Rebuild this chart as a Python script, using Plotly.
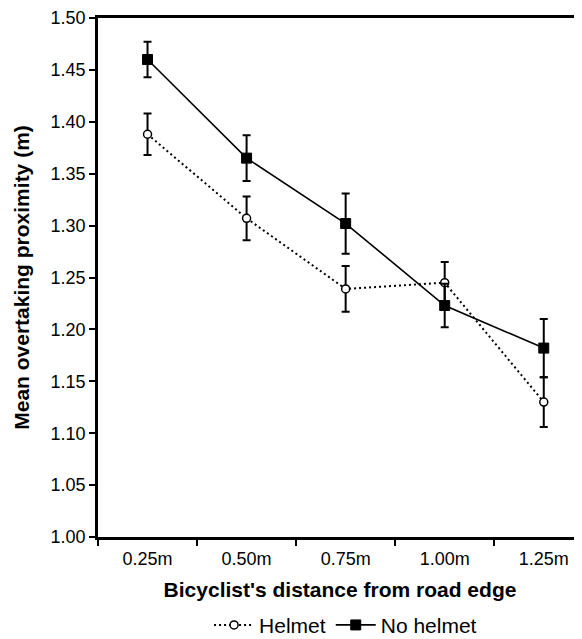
import plotly.graph_objects as go

categories = ["0.25m", "0.50m", "0.75m", "1.00m", "1.25m"]
helmet_mean = [1.388, 1.307, 1.239, 1.245, 1.130]
helmet_err = [0.020, 0.021, 0.022, 0.020, 0.024]
nohelmet_mean = [1.460, 1.365, 1.302, 1.223, 1.182]
nohelmet_err = [0.017, 0.022, 0.029, 0.021, 0.028]
y_ticks = [1.00, 1.05, 1.10, 1.15, 1.20, 1.25, 1.30, 1.35, 1.40, 1.45, 1.50]

FONT = "Liberation Sans, Arial, sans-serif"

fig = go.Figure()
fig.add_trace(go.Scatter(
    x=categories, y=helmet_mean, name="Helmet", mode="lines+markers",
    line=dict(color="black", width=2, dash="2px,3px"),
    marker=dict(symbol="circle", size=8, color="white", line=dict(color="black", width=1.5)),
    error_y=dict(type="data", array=helmet_err, color="black", thickness=2, width=4),
))
fig.add_trace(go.Scatter(
    x=categories, y=nohelmet_mean, name="No helmet", mode="lines+markers",
    line=dict(color="black", width=1.6),
    marker=dict(symbol="square", size=10, color="black", line=dict(color="black", width=1)),
    error_y=dict(type="data", array=nohelmet_err, color="black", thickness=2, width=4),
))

# page body adds an 8px offset; margins compensate for it
fig.update_layout(
    width=582, height=639,
    margin=dict(l=90, r=8, t=10, b=110, autoexpand=False),
    paper_bgcolor="white", plot_bgcolor="white",
    font=dict(family=FONT, color="black", size=18),
    showlegend=True,
    legend=dict(orientation="h", xref="container", yref="container",
                x=0.58, xanchor="center", y=0.034, yanchor="middle",
                font=dict(size=21), itemwidth=40, traceorder="normal"),
    xaxis=dict(
        type="category", range=[-0.5, 4.386], automargin=False,
        showline=True, linecolor="black", linewidth=2.5, mirror=True,
        ticks="outside", tickson="boundaries", ticklen=6, tickwidth=2, tickcolor="black",
        showgrid=False, zeroline=False, ticklabelstandoff=4,
        tickfont=dict(size=18),
        title=dict(text="<b>Bicyclist's distance from road edge</b>", font=dict(size=21), standoff=14),
    ),
    yaxis=dict(
        range=[1.0, 1.5], tickvals=y_ticks, ticktext=[f"{v:.2f}" for v in y_ticks],
        automargin=False,
        showline=True, linecolor="black", linewidth=2.5, mirror=False,
        ticks="outside", ticklen=6, tickwidth=2, tickcolor="black",
        showgrid=False, zeroline=False,
        tickfont=dict(size=18),
        title=dict(text="<b>Mean overtaking proximity (m)</b>", font=dict(size=21), standoff=16),
    ),
)

fig.write_html("out.html")
